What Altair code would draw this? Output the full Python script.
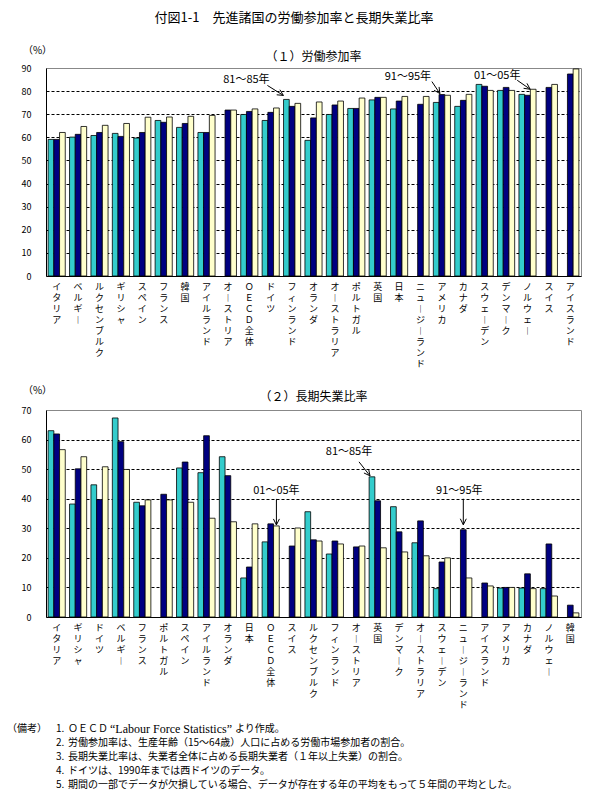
import math
import altair as alt
import pandas as pd

JP = "Noto Sans CJK JP"

periods = ["1981～85年", "1991～95年", "2001～05年"]
period_colors = ["#33CCCC", "#000080", "#FFFFCC"]

# (1) 労働参加率（%）
lfpr_countries = ["イタリア", "ベルギー", "ルクセンブルク", "ギリシャ", "スペイン", "フランス", "韓国",
                  "アイルランド", "オーストリア", "ＯＥＣＤ全体", "ドイツ", "フィンランド", "オランダ",
                  "オーストラリア", "ポルトガル", "英国", "日本", "ニュージーランド", "アメリカ", "カナダ",
                  "スウェーデン", "デンマーク", "ノルウェー", "スイス", "アイスランド"]
lfpr_8185 = [59.1, 60.1, 60.8, 61.7, 59.7, 67.3, 64.3, 62.1, None, 69.9, 67.3, 76.4, 58.7,
             69.9, 72.5, 76.2, 72.3, None, 75.1, 73.4, 82.9, 80.3, 78.6, None, None]
lfpr_9195 = [59.1, 61.3, 62.1, 60.4, 62.1, 66.5, 66.0, 62.1, 71.8, 71.2, 70.8, 73.4, 68.4,
             74.0, 72.5, 77.3, 75.7, 74.3, 78.5, 76.0, 82.1, 81.6, 78.2, 81.6, 87.4]
lfpr_0105 = [62.1, 64.7, 65.2, 66.0, 68.7, 68.8, 69.1, 69.5, 71.8, 72.3, 72.7, 74.7, 75.3,
             75.7, 77.0, 77.3, 77.7, 77.7, 78.2, 78.6, 80.3, 80.3, 80.8, 82.9, 89.6]

# (2) 長期失業比率（%）
ltu_countries = ["イタリア", "ギリシャ", "ドイツ", "ベルギー", "フランス", "ポルトガル", "スペイン",
                 "アイルランド", "オランダ", "日本", "ＯＥＣＤ全体", "スイス", "ルクセンブルク",
                 "フィンランド", "オーストリア", "英国", "デンマーク", "オーストラリア", "スウェーデン",
                 "ニュージーランド", "アイスランド", "アメリカ", "カナダ", "ノルウェー", "韓国"]
ltu_8185 = [63.0, 38.2, 44.7, 67.3, 38.8, None, 50.4, 48.8, 54.2, 13.2, 25.4, None, 35.6,
            21.3, None, 47.4, 37.3, 25.1, 9.6, None, None, 9.8, 9.8, 9.6, None]
ltu_9195 = [61.9, 50.1, 39.7, 59.3, 37.6, 41.5, 52.4, 61.3, 47.8, 16.9, 31.5, 24.0, 26.1,
            25.7, 23.7, 39.3, 28.8, 32.5, 18.6, 29.5, 11.5, 10.0, 14.6, 24.7, 4.0]
ltu_0105 = [56.6, 54.2, 50.8, 49.9, 39.6, 39.6, 38.8, 33.4, 32.2, 31.5, 30.8, 30.1, 25.7,
            24.7, 24.0, 23.4, 22.0, 20.7, 20.0, 13.2, 10.5, 10.0, 9.6, 7.1, 1.4]

# period callouts: (country, period, label)
lfpr_callouts = [("フィンランド", periods[0], "81～85年"),
                 ("アメリカ", periods[1], "91～95年"),
                 ("ノルウェー", periods[2], "01～05年")]
ltu_callouts = [("ＯＥＣＤ全体", periods[2], "01～05年"),
                ("英国", periods[0], "81～85年"),
                ("ニュージーランド", periods[1], "91～95年")]

note_head = "（備考）"
note_nums = ["1.", "2.", "3.", "4.", "5."]
note_lines = [
    None,
    "労働参加率は、生産年齢（15～64歳）人口に占める労働市場参加者の割合。",
    "長期失業比率は、失業者全体に占める長期失業者（１年以上失業）の割合。",
    "ドイツは、1990年までは西ドイツのデータ。",
    "期間の一部でデータが欠損している場合、データが存在する年の平均をもって５年間の平均とした。",
]

PLOT_W = 535


def long_table(countries, cols):
    rows = []
    for i, c in enumerate(countries):
        for p, col in zip(periods, cols):
            if col[i] is not None:
                rows.append({"country": c, "period": p, "value": col[i]})
    return pd.DataFrame(rows)


def arrow_shape(tip, vec, head=6.0, half=3.0):
    # open-headed arrow in pixel units (symbol size 4 -> unit scale 1)
    tx, ty = tip
    vx, vy = vec
    length = math.hypot(vx, vy)
    ux, uy = vx / length, vy / length
    nx, ny = -uy, ux
    hx, hy = tx + ux * head, ty + uy * head
    return (f"M{tx + vx:.2f},{ty + vy:.2f}L{tx:.2f},{ty:.2f}"
            f"M{hx + nx * half:.2f},{hy + ny * half:.2f}L{tx:.2f},{ty:.2f}"
            f"L{hx - nx * half:.2f},{hy - ny * half:.2f}")


def panel(countries, cols, ymax, height, subtitle, callouts, geometry, pct_y):
    data = long_table(countries, cols)
    x = alt.X("country:N", sort=None,
              scale=alt.Scale(domain=countries, paddingInner=0.2, paddingOuter=0.1),
              axis=alt.Axis(title=None, labelAngle=0, labelAlign="center", labelBaseline="top",
                            labelExpr="split(replace(datum.label, regexp('ー', 'g'), '︱'), '')",
                            labelLineHeight=11, labelPadding=6, labelFontSize=9,
                            labelOverlap=False, labelLimit=0, ticks=False, domainColor="black"))
    xo = alt.XOffset("period:N", sort=None,
                     scale=alt.Scale(domain=periods, paddingInner=0, paddingOuter=0))
    y = alt.Y("value:Q", scale=alt.Scale(domain=[0, ymax], nice=False),
              axis=alt.Axis(values=list(range(0, ymax + 1, 10)), grid=True, gridColor="black",
                            gridDash=[3, 2], gridWidth=1,
                            gridOpacity={"condition": {"test": f"datum.value == 0 || datum.value == {ymax}",
                                                       "value": 0}, "value": 1},
                            ticks=False, domainColor="black", labelPadding=15, labelFontSize=9,
                            title="（%）", titleAngle=0, titleAlign="center", titleBaseline="middle",
                            titleX=-9, titleY=pct_y, titleFontSize=10, titleFontWeight="normal"))
    bars = alt.Chart(data).mark_bar(stroke="black", strokeWidth=0.8, opacity=1).encode(
        x=x, xOffset=xo, y=y,
        color=alt.Color("period:N", scale=alt.Scale(domain=periods, range=period_colors), legend=None))
    layers = [bars]
    for (country, period, label), (tip, vec, text_off) in zip(callouts, geometry):
        row = data[(data.country == country) & (data.period == period)].assign(label=label)
        base = alt.Chart(row).encode(x=x, xOffset=xo, y=y)
        layers.append(base.mark_point(shape=arrow_shape(tip, vec), size=4, filled=False,
                                      stroke="black", strokeWidth=1, opacity=1))
        layers.append(base.mark_text(dx=text_off[0], dy=text_off[1], fontSize=11, font=JP,
                                     align="center", baseline="middle", color="black").encode(
            text="label:N"))
    return alt.layer(*layers).properties(
        width=PLOT_W, height=height,
        title=alt.TitleParams(subtitle, fontSize=12, font=JP, fontWeight="normal",
                              anchor="middle", offset=-19))


# callout geometry in pixels: arrow tip and arrow vector from the bar top, text offset
lfpr_geom = [((-3, -4), (-16, -10), (-40, -19)),
             ((-2, -1), (-8, -12), (-34, -18)),
             ((-3, 0), (-13, -9), (-36, -13))]
ltu_geom = [((0, -1), (0, -26), (0, -35)),
            ((-2, -1), (-11, -14), (-23, -25)),
            ((0, -5), (0, -26), (-4, -39))]

top = panel(lfpr_countries, [lfpr_8185, lfpr_9195, lfpr_0105], 90, 208,
            "（１）労働参加率", lfpr_callouts, lfpr_geom, -18)
bottom = panel(ltu_countries, [ltu_8185, ltu_9195, ltu_0105], 70, 207,
               "（２）長期失業比率", ltu_callouts, ltu_geom, -20)

# notes block under the second panel
notes_df = pd.DataFrame({"line": list(range(5)), "num": note_nums,
                         "text": [t if t is not None else "" for t in note_lines]})
ny = alt.Y("line:Q", scale=alt.Scale(domain=[-0.5, 4.5], reverse=True), axis=None)
nbase = alt.Chart(notes_df).encode(y=ny)
first = alt.Chart(notes_df[notes_df.line == 0]).encode(y=ny)
notes = alt.layer(
    first.mark_text(align="left", baseline="middle", fontSize=10, font=JP, text=note_head,
                    color="black").encode(x=alt.value(-39)),
    nbase.mark_text(align="left", baseline="middle", fontSize=10, font=JP, color="black").encode(
        x=alt.value(10), text="num:N"),
    nbase.mark_text(align="left", baseline="middle", fontSize=10, font=JP, color="black").encode(
        x=alt.value(22), text="text:N"),
    first.mark_text(align="left", baseline="middle", fontSize=10, font=JP, text="ＯＥＣＤ",
                    color="black").encode(x=alt.value(22)),
    first.mark_text(align="left", baseline="middle", fontSize=12, font="Liberation Serif",
                    text="“Labour Force Statistics”", color="black").encode(x=alt.value(64)),
    first.mark_text(align="left", baseline="middle", fontSize=10, font=JP, text="より作成。",
                    color="black").encode(x=alt.value(189)),
).properties(width=PLOT_W, height=70, view=alt.ViewBackground(stroke="transparent"))

chart = alt.vconcat(
    top,
    alt.vconcat(bottom, notes, spacing=105, bounds="flush"),
    spacing=134, bounds="flush",
    title=alt.TitleParams("付図1-1　先進諸国の労働参加率と長期失業比率", fontSize=13, font=JP,
                          fontWeight="normal", anchor="middle", offset=20),
).properties(
    padding={"left": 6, "top": 11, "right": 5, "bottom": 5}
).configure_view(
    stroke="#888888", strokeWidth=1
).configure_axis(
    labelFont=JP, titleFont=JP, labelColor="black", titleColor="black"
).configure_title(color="black")

chart.save("out.html", embed_options={"renderer": "svg", "actions": False})
